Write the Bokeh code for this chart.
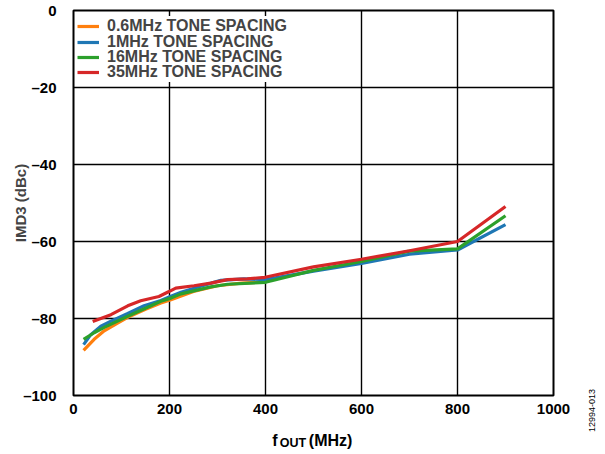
import math
from bokeh.plotting import figure
from bokeh.models import Range1d, FixedTicker, Legend, LegendItem
from bokeh.layouts import column, row
from bokeh.core.properties import value
from bokeh.embed import file_html
from bokeh.resources import INLINE

# ---- data ----
freq_06 = [21, 43, 64, 90, 113, 150, 182, 203, 250, 300, 350, 400]
imd_06 = [-88.3, -85.4, -83.2, -81.3, -79.7, -77.6, -76.0, -75.1, -73.0, -71.5, -70.8, -70.5]

freq_1 = [21, 36, 57, 78, 113, 147, 182, 203, 224, 265, 307, 355, 400, 500, 600, 700, 800, 900]
imd_1 = [-86.8, -84.2, -82.0, -80.7, -78.7, -76.7, -75.3, -74.2, -73.2, -71.6, -70.1, -69.7, -69.9,
         -67.7, -65.7, -63.3, -62.2, -55.6]

freq_16 = [21, 43, 64, 113, 182, 203, 224, 286, 321, 400, 500, 600, 700, 800, 900]
imd_16 = [-85.4, -83.7, -82.3, -79.4, -75.5, -74.7, -73.6, -71.8, -71.1, -70.6,
          -67.5, -65.2, -62.5, -61.9, -53.3]

freq_35 = [40, 78, 113, 140, 178, 199, 213, 251, 286, 321, 362, 399, 500, 600, 700, 800, 900]
imd_35 = [-80.8, -79.0, -76.7, -75.4, -74.3, -73.0, -72.1, -71.5, -70.8, -69.9, -69.7, -69.3,
          -66.6, -64.6, -62.4, -60.0, -50.9]

series_names = ["0.6MHz TONE SPACING", "1MHz TONE SPACING", "16MHz TONE SPACING", "35MHz TONE SPACING"]
series_colors = ["#FF7F0E", "#1F77B4", "#2CA02C", "#D62728"]

x_ticks = [0, 200, 400, 600, 800, 1000]
y_ticks = [-100, -80, -60, -40, -20, 0]
y_tick_labels = ["\u2013100", "\u201380", "\u201360", "\u201340", "\u201320", "0"]
y_title = "IMD3 (dBc)"
x_title_parts = ["f", "OUT", "(MHz)"]
figure_id = "12994-013"

# ---- layout (pixel geometry) ----
ID_W = 12                 # narrow strip on the right for the figure id
MW = 585                  # main column width
MH = 420                  # main figure height
QH = 32                   # x-title strip height
H = MH + QH
BL, BR, BT, BB = 73, 32, 10, 25
FW = MW - BL - BR
FH = MH - BT - BB
XMIN, XMAX = 0, 1000
YMIN, YMAX = -100, 0
pxx = FW / (XMAX - XMIN)

FONT = "Liberation Sans"

p = figure(width=MW, height=MH, output_backend="svg", toolbar_location=None,
           x_range=Range1d(XMIN, XMAX), y_range=Range1d(YMIN, YMAX),
           min_border_left=BL, min_border_right=BR, min_border_top=BT, min_border_bottom=BB)

p.outline_line_color = "black"
p.outline_line_width = 2
p.background_fill_color = "white"
p.border_fill_color = "white"

for ax in (p.xaxis[0], p.yaxis[0]):
    ax.axis_line_color = None
    ax.major_tick_line_color = None
    ax.minor_tick_line_color = None
    ax.major_label_text_font = FONT
    ax.major_label_text_font_style = "bold"
    ax.major_label_text_font_size = "15px"
    ax.major_label_text_color = "black"

p.xaxis.ticker = FixedTicker(ticks=x_ticks)
p.yaxis.ticker = FixedTicker(ticks=y_ticks)
p.yaxis.major_label_overrides = {t: l for t, l in zip(y_ticks, y_tick_labels)}
p.xaxis.major_label_standoff = 2
p.yaxis.major_label_standoff = 11

p.yaxis.axis_label = y_title
p.yaxis.axis_label_text_font = FONT
p.yaxis.axis_label_text_font_style = "bold"
p.yaxis.axis_label_text_font_size = "15px"
p.yaxis.axis_label_standoff = -9

p.grid.grid_line_color = "black"
p.grid.grid_line_width = 1.4
p.grid.grid_line_alpha = 1.0
p.xgrid.ticker = FixedTicker(ticks=x_ticks)
p.ygrid.ticker = FixedTicker(ticks=y_ticks)

xs_all = [freq_06, freq_1, freq_16, freq_35]
ys_all = [imd_06, imd_1, imd_16, imd_35]
renderers = []
for xs, ys, c in zip(xs_all, ys_all, series_colors):
    renderers.append(p.line(xs, ys, line_color=c, line_width=3.2))

# one legend per row so the rows can sit as tightly as in the reference
ROW_H = 20
LEG_PAD = 3
row_centers = [13.0, 28.6, 43.6, 59.0]   # px below the frame top
for r, n, yc in zip(renderers, series_names, row_centers):
    bottom_from_frame_bottom = FH - (yc + ROW_H / 2 + LEG_PAD)
    lg = Legend(items=[LegendItem(label=n, renderers=[r])],
                location=(4, bottom_from_frame_bottom))
    lg.label_text_font = FONT
    lg.label_text_font_style = "bold"
    lg.label_text_font_size = "16px"
    lg.label_standoff = 8
    lg.glyph_width = 22
    lg.glyph_height = ROW_H
    lg.label_height = ROW_H
    lg.padding = LEG_PAD
    lg.margin = 0
    lg.spacing = 0
    lg.border_line_color = None
    lg.background_fill_color = "white"
    lg.background_fill_alpha = 1.0
    p.add_layout(lg)

# ---- x-axis title strip (shares the x scale of the main plot) ----
q = figure(width=MW, height=QH, output_backend="svg", toolbar_location=None, title=None,
           x_range=p.x_range, y_range=Range1d(QH, 0),
           x_axis_location=None, y_axis_location=None,
           min_border_left=BL, min_border_right=BR, min_border_top=0, min_border_bottom=0)
q.grid.visible = False
q.outline_line_color = None
q.border_fill_color = "white"
q.background_fill_color = "white"

def px_to_x(dx):
    return XMIN + dx / pxx

q.text(x=[px_to_x(198.7), px_to_x(235.3)], y=[20, 20], text=[x_title_parts[0], x_title_parts[2]],
       text_font=value(FONT), text_font_style="bold", text_font_size="16px",
       text_color="black", text_align="left", text_baseline="alphabetic")
q.text(x=[px_to_x(206.3)], y=[22.5], text=[x_title_parts[1]],
       text_font=value(FONT), text_font_style="bold", text_font_size="12.5px",
       text_color="black", text_align="left", text_baseline="alphabetic")

# ---- figure id strip on the right ----
rfig = figure(width=ID_W, height=H, output_backend="svg", toolbar_location=None, title=None,
              x_range=Range1d(0, ID_W), y_range=Range1d(H, 0),
              x_axis_location=None, y_axis_location=None,
              min_border_left=0, min_border_right=0, min_border_top=0, min_border_bottom=0)
rfig.grid.visible = False
rfig.outline_line_color = None
rfig.border_fill_color = "white"
rfig.background_fill_color = "white"
rfig.text(x=[ID_W / 2], y=[410], text=[figure_id], angle=math.pi / 2,
          text_font=value(FONT), text_font_size="9px", text_color="black",
          text_align="center", text_baseline="middle")

layout = row(column(p, q, spacing=0), rfig, spacing=0)
open("out.html", "w").write(file_html(layout, INLINE))
